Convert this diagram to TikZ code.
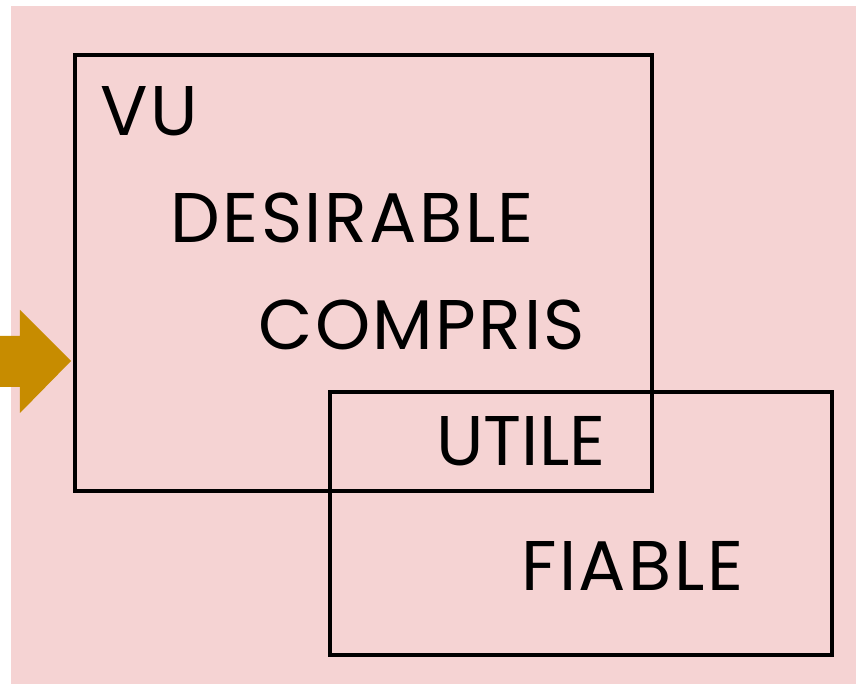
\documentclass[tikz,border=0pt]{standalone}
\usepackage{fontspec}
\setmainfont{Poppins}[LetterSpace=3.5]
\usepackage{xcolor}
\usetikzlibrary{positioning}
\definecolor{bgpink}{RGB}{245,211,211}
\definecolor{arrowgold}{RGB}{199,140,0}
\tikzset{
  word/.style={anchor=base west, inner sep=0pt, font=\fontsize{40}{48}\selectfont},
  frame/.style={draw=black, line width=2.2pt}
}
\begin{document}
\begin{tikzpicture}
\useasboundingbox (0,0) rectangle (17.12,13.68);
\fill[bgpink] (0.22,0) rectangle (17.12,13.56);

% Arrow
\fill[arrowgold] (0,6.96) -- (0.40,6.96) -- (0.40,7.48) -- (1.42,6.46)
  -- (0.40,5.42) -- (0.40,5.94) -- (0,5.94) -- cycle;

% Frames
\draw[frame] (1.50,3.86) rectangle (13.04,12.58);
\draw[frame] (6.60,0.58) rectangle (16.64,5.84);

% Words
\node[word] (vu) at (2.00,10.96) {VU};
\node[word] (desirable) at (3.40,8.82) {DESIRABLE};
\node[word] (compris) at (5.16,6.68) {COMPRIS};
\node[word] (utile) at (8.72,4.36) {\addfontfeature{LetterSpace=0}UTILE};
\node[word] (fiable) at (10.42,1.88) {FIABLE};
\end{tikzpicture}
\end{document}
